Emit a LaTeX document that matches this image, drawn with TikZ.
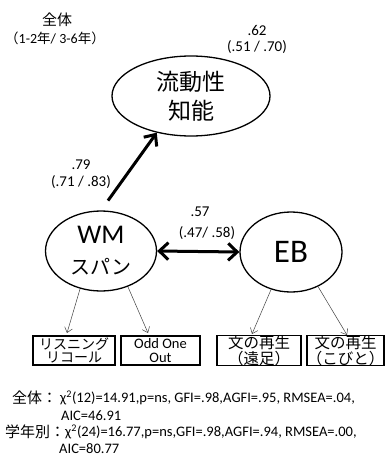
\documentclass[tikz,border=0pt]{standalone}
\usepackage{fontspec}
\setmainfont{Carlito}
\newfontfamily\jp{Noto Sans CJK JP}
\usetikzlibrary{shapes.geometric,arrows.meta}
\newcommand{\fsz}[2]{\fontsize{#1}{#2}\selectfont}
\begin{document}
\begin{tikzpicture}[x=1pt,y=-1pt,
  latent/.style={ellipse, draw, line width=1.3pt, inner sep=0pt, align=center},
  obs/.style={draw, line width=1.9pt, inner sep=0pt, minimum height=29pt, align=center},
  lbl/.style={inner sep=0pt, align=center, font=\fsz{15}{17}},
  bottomtxt/.style={inner sep=0pt, anchor=west, font=\fsz{14.5}{17}},
  thinarrow/.style={-{Straight Barb[length=5pt,width=8pt]}, line width=0.5pt, draw=black!75},
  thickarrow/.style={-{Straight Barb[length=9pt,width=16pt]}, line width=3pt},
  dblarrow/.style={{Straight Barb[length=9pt,width=17pt]}-{Straight Barb[length=9pt,width=17pt]}, line width=3pt}
]
\useasboundingbox (0,0) rectangle (387,458);

% latent variables
\node[latent, minimum width=158pt, minimum height=80pt, font=\jp\fsz{23}{29}] (fl) at (191,96) {流動性\\知能};
\node[latent, minimum width=111pt, minimum height=80pt, font=\fsz{27}{31}] (wm) at (101,251) {WM\\{\jp\fsz{20}{31}スパン}};
\node[latent, minimum width=102pt, minimum height=80pt, font=\fsz{33}{36}] (eb) at (291,252) {EB};

% observed variables
\node[obs, minimum width=82pt, font=\jp\fsz{14}{13.5}] (b1) at (74,350.5) {リスニング\\リコール};
\node[obs, minimum width=79pt, font=\fsz{14.5}{14}] (b2) at (160.5,350.5) {Odd One\\Out};
\node[obs, minimum width=84pt, font=\jp\fsz{15.5}{14}] (b3) at (259,350.5) {文の再生\\（遠足）};
\node[obs, minimum width=77pt, font=\jp\fsz{15.5}{14}] (b4) at (345.5,350.5) {文の再生\\（こびと）};

\coordinate (t1) at (67,333);
\coordinate (t2) at (148,333);
\coordinate (t3) at (252,334);
\coordinate (t4) at (347,335);

% paths
\draw[thickarrow, shorten <=12pt] (wm.north) -- (fl.-133);
\draw[dblarrow] (wm.east) -- (eb.west);
\draw[thinarrow] (wm.-119) -- (t1);
\draw[thinarrow] (wm.-53) -- (t2);
\draw[thinarrow] (eb.-118) -- (t3);
\draw[thinarrow] (eb.-52) -- (t4);

% labels
\node[lbl] (l62) at (257,30) {.62};
\node[lbl] (l62b) at (257,47) {(.51 / .70)};
\node[lbl] (l79) at (81,165) {.79};
\node[lbl] (l79b) at (81,182) {(.71 / .83)};
\node[lbl] (l57) at (200,212) {.57};
\node[lbl] (l57b) at (207,233) {(.47/ .58)};

\node[lbl, font=\jp\fsz{15}{17}] (h1) at (57,20) {全体};
\node[lbl, font=\fsz{14}{17}] (h2) at (55,38) {{\jp\fsz{13.5}{17}（}1-2{\jp\fsz{13.5}{17}年}/ 3-6{\jp\fsz{13.5}{17}年}{\jp\fsz{13.5}{17}）}};

% fit statistics
\node[bottomtxt, font=\jp\fsz{15}{17}] (f1) at (12,398) {全体：};
\node[bottomtxt] (f1a) at (60,398) {χ\textsuperscript{2}(12)=14.91,p=ns, GFI=.98,AGFI=.95, RMSEA=.04,};
\node[bottomtxt] (f1b) at (61,416) {AIC=46.91};
\node[bottomtxt, font=\jp\fsz{15}{17}] (f2) at (5,432) {学年別：};
\node[bottomtxt] (f2a) at (65,432) {χ\textsuperscript{2}(24)=16.77,p=ns,GFI=.98,AGFI=.94, RMSEA=.00,};
\node[bottomtxt] (f2b) at (59,449) {AIC=80.77};
\end{tikzpicture}
\end{document}
